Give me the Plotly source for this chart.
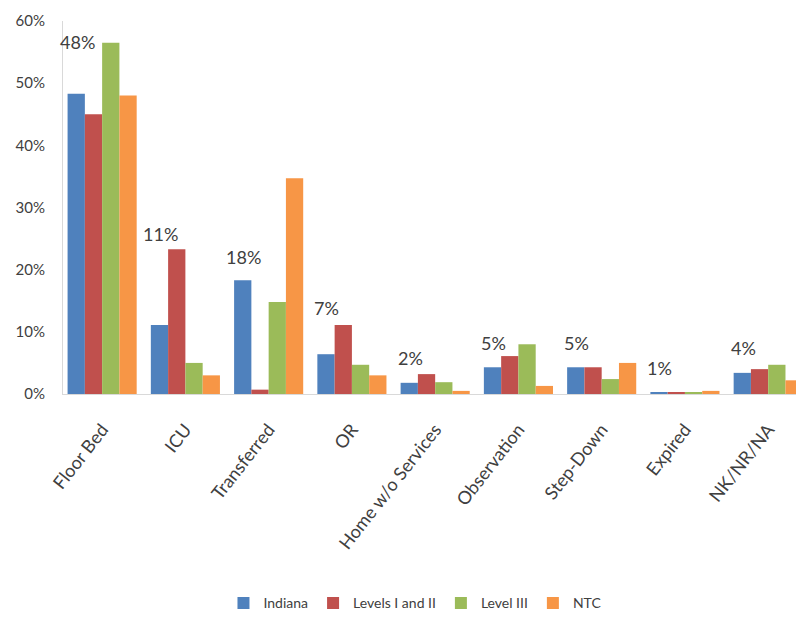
import plotly.graph_objects as go

categories = ["Floor Bed", "ICU", "Transferred", "OR", "Home w/o Services",
              "Observation", "Step-Down", "Expired", "NK/NR/NA"]
indiana = [48.3, 11.1, 18.3, 6.4, 1.8, 4.3, 4.3, 0.3, 3.4]
levels_1_2 = [45.0, 23.3, 0.7, 11.1, 3.2, 6.1, 4.3, 0.3, 4.0]
level_3 = [56.5, 5.0, 14.8, 4.7, 1.9, 8.0, 2.4, 0.3, 4.7]
ntc = [48.0, 3.0, 34.7, 3.0, 0.5, 1.3, 5.0, 0.5, 2.2]
label_text = ["48%", "11%", "18%", "7%", "2%", "5%", "5%", "1%", "4%"]
label_y = [56.7, 25.7, 22.1, 13.8, 5.8, 8.2, 8.2, 4.2, 7.4]
y_ticks = [0, 10, 20, 30, 40, 50, 60]
y_tick_text = ["0%", "10%", "20%", "30%", "40%", "50%", "60%"]

series = [("Indiana", indiana, "#4F81BD"),
          ("Levels I and II", levels_1_2, "#C0504D"),
          ("Level III", level_3, "#9BBB59"),
          ("NTC", ntc, "#F79646")]

font_family = "Lato, 'Open Sans', sans-serif"
fig = go.Figure()
for name, vals, color in series:
    fig.add_trace(go.Bar(x=categories, y=vals, name=name, marker_color=color,
                         marker_line_width=0))

for cat, txt, yv in zip(categories, label_text, label_y):
    fig.add_annotation(x=cat, y=yv, text=txt, showarrow=False, xshift=-25,
                       font=dict(size=18, color="#404040", family=font_family))

fig.update_layout(
    width=796, height=610,
    margin=dict(l=55, r=0, t=13, b=224),
    plot_bgcolor="white", paper_bgcolor="white",
    barmode="group", bargap=0.17, bargroupgap=0,
    font=dict(family=font_family, color="#404040"),
    showlegend=True,
    legend=dict(orientation="h", x=0.475, xanchor="center",
                yref="container", y=0.024, yanchor="middle",
                font=dict(size=14, color="#404040"), itemwidth=30,
                traceorder="normal"),
    xaxis=dict(tickangle=-52, tickfont=dict(size=18, color="#404040"),
               showline=True, linecolor="#D9D9D9", linewidth=1, ticks="",
               automargin=False, range=[-0.47, 8.43], ticklabelstandoff=17),
    yaxis=dict(range=[0, 60], tickvals=y_ticks, ticktext=y_tick_text,
               tickfont=dict(size=15, color="#404040"), showgrid=False,
               showline=True, linecolor="#D9D9D9", linewidth=1, ticks="",
               zeroline=False, automargin=False, ticklabelstandoff=14),
)
fig.write_html("out.html")
